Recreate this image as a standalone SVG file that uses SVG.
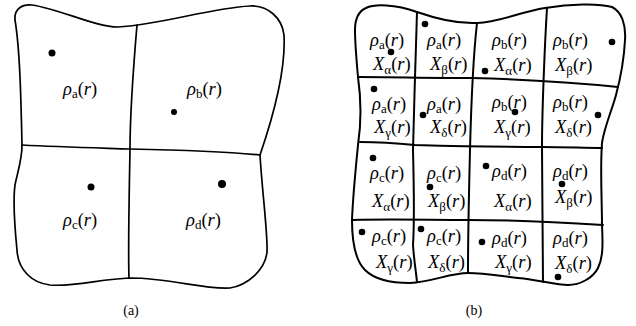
<svg xmlns="http://www.w3.org/2000/svg" width="636" height="326" viewBox="0 0 636 326">
<style>
.ln{fill:none;stroke:#000;stroke-width:1.7;stroke-linejoin:round;stroke-linecap:round}
.lb{fill:none;stroke:#000;stroke-width:2;stroke-linejoin:round;stroke-linecap:round}
.dot{fill:#000}
text{font-family:"Liberation Serif","DejaVu Serif",serif;font-size:18.5px;fill:#000}
.it{font-style:italic}
.sub{font-size:13px;font-style:normal}
.cap{font-size:14px}
</style>
<rect width="636" height="326" fill="#fff"/>
<g id="panel-a">
  <path class="ln" d="M15,20 C14,9 22,4 32,5 C60,9 95,27 118,27 C160,25 210,8 250,6 C268,5 282,18 284,35 C286,70 272,120 260,155 C262,190 268,235 267,252 C265,270 248,285 230,288 C205,290 170,278 130,278 C100,279 75,287 50,285 C32,283 18,270 17,250 C14,220 13,200 15,185 C18,170 22,160 22,145 C21,100 20,50 15,20 Z"/>
  <path class="ln" d="M137,25 C134,60 130,110 130,150 C129,200 128,250 129,278"/>
  <path class="ln" d="M22,145 C60,147 100,148 130,149 C180,150 230,152 260,155"/>
  <circle class="dot" cx="52" cy="53" r="3.5"/>
  <circle class="dot" cx="174" cy="112" r="3"/>
  <circle class="dot" cx="91" cy="187" r="3.5"/>
  <circle class="dot" cx="222" cy="184" r="4"/>
  <text x="63" y="95"><tspan class="it">ρ</tspan><tspan class="sub" dy="3">a</tspan><tspan dy="-3">(</tspan><tspan class="it">r</tspan>)</text>
  <text x="187" y="95"><tspan class="it">ρ</tspan><tspan class="sub" dy="3">b</tspan><tspan dy="-3">(</tspan><tspan class="it">r</tspan>)</text>
  <text x="63" y="226"><tspan class="it">ρ</tspan><tspan class="sub" dy="3">c</tspan><tspan dy="-3">(</tspan><tspan class="it">r</tspan>)</text>
  <text x="186" y="226"><tspan class="it">ρ</tspan><tspan class="sub" dy="3">d</tspan><tspan dy="-3">(</tspan><tspan class="it">r</tspan>)</text>
  <text class="cap" x="131" y="315" text-anchor="middle">(a)</text>
</g>
<g id="panel-b">
  <path class="lb" d="M355,30 C355,22 357,12 366,8 C374,4 395,4 417,12 C440,20 458,24 477,23 C500,22 520,12 545,8 C570,4 598,3 612,7 C622,12 626,25 625,40 C624,60 620,80 616,95 C612,110 604,128 602,143 C600,170 602,200 602,225 C603,245 603,258 598,268 C593,278 580,285 568,285 C555,285 540,280 518,278 C500,276 485,273 468,273 C450,273 432,282 410,283 C392,283 375,280 365,270 C355,260 352,240 352,220 C353,195 356,165 358,145 C361,125 362,105 358,77 C356,55 355,40 355,30 Z"/>
  <g id="connectors">
    <path class="lb" d="M358,77 C390,77 430,78 472,78 C510,79 560,81 618,87"/>
    <path class="lb" d="M360,142 C378,142 395,143 415,145 C450,146 490,147 542,147 C565,147 585,148 602,148"/>
    <path class="lb" d="M352,220 C390,219 430,220 468,220 C500,220 540,221 603,225"/>
    <path class="lb" d="M417,12 C416,40 414,110 413,150 C414,190 414,230 413,245 C414,260 416,272 417,282"/>
    <path class="lb" d="M477,23 C474,50 471,110 470,150 C469,190 468,240 468,273"/>
    <path class="lb" d="M547,8 C545,40 542,110 542,147 C542,190 543,240 543,282"/>
  </g>
  <g id="dots-b">
    <circle class="dot" cx="425" cy="24" r="3.3"/>
    <circle class="dot" cx="391" cy="52" r="3.3"/>
    <circle class="dot" cx="485" cy="71" r="3.3"/>
    <circle class="dot" cx="612" cy="42" r="3.3"/>
    <circle class="dot" cx="374" cy="89" r="3.3"/>
    <circle class="dot" cx="423" cy="115" r="3.3"/>
    <circle class="dot" cx="515" cy="112" r="3.3"/>
    <circle class="dot" cx="598" cy="115" r="3.3"/>
    <circle class="dot" cx="373" cy="158" r="3.3"/>
    <circle class="dot" cx="430" cy="187" r="3.3"/>
    <circle class="dot" cx="486" cy="166" r="3.3"/>
    <circle class="dot" cx="562" cy="184" r="3.3"/>
    <circle class="dot" cx="362" cy="232" r="3.3"/>
    <circle class="dot" cx="421" cy="229" r="3.3"/>
    <circle class="dot" cx="482" cy="242" r="3.3"/>
    <circle class="dot" cx="558" cy="277" r="3.3"/>
  </g>
  <g id="cell-1-1">
    <text x="370" y="46"><tspan class="it">ρ</tspan><tspan class="sub" dy="2.5">a</tspan><tspan dy="-2.5">(</tspan><tspan class="it">r</tspan>)</text>
    <text x="373" y="70"><tspan class="it">X</tspan><tspan class="sub" dy="4">α</tspan><tspan dy="-4">(</tspan><tspan class="it">r</tspan>)</text>
  </g>
  <g id="cell-1-2">
    <text x="427" y="46"><tspan class="it">ρ</tspan><tspan class="sub" dy="2.5">a</tspan><tspan dy="-2.5">(</tspan><tspan class="it">r</tspan>)</text>
    <text x="430" y="70"><tspan class="it">X</tspan><tspan class="sub" dy="4">β</tspan><tspan dy="-4">(</tspan><tspan class="it">r</tspan>)</text>
  </g>
  <g id="cell-1-3">
    <text x="492" y="46"><tspan class="it">ρ</tspan><tspan class="sub" dy="3">b</tspan><tspan dy="-3">(</tspan><tspan class="it">r</tspan>)</text>
    <text x="494" y="71"><tspan class="it">X</tspan><tspan class="sub" dy="4">α</tspan><tspan dy="-4">(</tspan><tspan class="it">r</tspan>)</text>
  </g>
  <g id="cell-1-4">
    <text x="553" y="46"><tspan class="it">ρ</tspan><tspan class="sub" dy="3">b</tspan><tspan dy="-3">(</tspan><tspan class="it">r</tspan>)</text>
    <text x="555" y="71"><tspan class="it">X</tspan><tspan class="sub" dy="4">β</tspan><tspan dy="-4">(</tspan><tspan class="it">r</tspan>)</text>
  </g>
  <g id="cell-2-1">
    <text x="372" y="110"><tspan class="it">ρ</tspan><tspan class="sub" dy="3">a</tspan><tspan dy="-3">(</tspan><tspan class="it">r</tspan>)</text>
    <text x="374" y="133"><tspan class="it">X</tspan><tspan class="sub" dy="4">γ</tspan><tspan dy="-4">(</tspan><tspan class="it">r</tspan>)</text>
  </g>
  <g id="cell-2-2">
    <text x="427" y="110"><tspan class="it">ρ</tspan><tspan class="sub" dy="3">a</tspan><tspan dy="-3">(</tspan><tspan class="it">r</tspan>)</text>
    <text x="430" y="133"><tspan class="it">X</tspan><tspan class="sub" dy="4">δ</tspan><tspan dy="-4">(</tspan><tspan class="it">r</tspan>)</text>
  </g>
  <g id="cell-2-3">
    <text x="492" y="108"><tspan class="it">ρ</tspan><tspan class="sub" dy="3">b</tspan><tspan dy="-3">(</tspan><tspan class="it">r</tspan>)</text>
    <text x="494" y="133"><tspan class="it">X</tspan><tspan class="sub" dy="4">γ</tspan><tspan dy="-4">(</tspan><tspan class="it">r</tspan>)</text>
  </g>
  <g id="cell-2-4">
    <text x="553" y="108"><tspan class="it">ρ</tspan><tspan class="sub" dy="3">b</tspan><tspan dy="-3">(</tspan><tspan class="it">r</tspan>)</text>
    <text x="555" y="133"><tspan class="it">X</tspan><tspan class="sub" dy="4">δ</tspan><tspan dy="-4">(</tspan><tspan class="it">r</tspan>)</text>
  </g>
  <g id="cell-3-1">
    <text x="370" y="179"><tspan class="it">ρ</tspan><tspan class="sub" dy="3">c</tspan><tspan dy="-3">(</tspan><tspan class="it">r</tspan>)</text>
    <text x="372" y="207"><tspan class="it">X</tspan><tspan class="sub" dy="4">α</tspan><tspan dy="-4">(</tspan><tspan class="it">r</tspan>)</text>
  </g>
  <g id="cell-3-2">
    <text x="427" y="179"><tspan class="it">ρ</tspan><tspan class="sub" dy="3">c</tspan><tspan dy="-3">(</tspan><tspan class="it">r</tspan>)</text>
    <text x="428" y="207"><tspan class="it">X</tspan><tspan class="sub" dy="4">β</tspan><tspan dy="-4">(</tspan><tspan class="it">r</tspan>)</text>
  </g>
  <g id="cell-3-3">
    <text x="492" y="177"><tspan class="it">ρ</tspan><tspan class="sub" dy="3">d</tspan><tspan dy="-3">(</tspan><tspan class="it">r</tspan>)</text>
    <text x="494" y="207"><tspan class="it">X</tspan><tspan class="sub" dy="4">α</tspan><tspan dy="-4">(</tspan><tspan class="it">r</tspan>)</text>
  </g>
  <g id="cell-3-4">
    <text x="553" y="177"><tspan class="it">ρ</tspan><tspan class="sub" dy="3">d</tspan><tspan dy="-3">(</tspan><tspan class="it">r</tspan>)</text>
    <text x="555" y="203"><tspan class="it">X</tspan><tspan class="sub" dy="4">β</tspan><tspan dy="-4">(</tspan><tspan class="it">r</tspan>)</text>
  </g>
  <g id="cell-4-1">
    <text x="372" y="242"><tspan class="it">ρ</tspan><tspan class="sub" dy="3">c</tspan><tspan dy="-3">(</tspan><tspan class="it">r</tspan>)</text>
    <text x="376" y="268"><tspan class="it">X</tspan><tspan class="sub" dy="4">γ</tspan><tspan dy="-4">(</tspan><tspan class="it">r</tspan>)</text>
  </g>
  <g id="cell-4-2">
    <text x="427" y="242"><tspan class="it">ρ</tspan><tspan class="sub" dy="3">c</tspan><tspan dy="-3">(</tspan><tspan class="it">r</tspan>)</text>
    <text x="428" y="268"><tspan class="it">X</tspan><tspan class="sub" dy="4">δ</tspan><tspan dy="-4">(</tspan><tspan class="it">r</tspan>)</text>
  </g>
  <g id="cell-4-3">
    <text x="492" y="244"><tspan class="it">ρ</tspan><tspan class="sub" dy="3">d</tspan><tspan dy="-3">(</tspan><tspan class="it">r</tspan>)</text>
    <text x="495" y="268"><tspan class="it">X</tspan><tspan class="sub" dy="4">γ</tspan><tspan dy="-4">(</tspan><tspan class="it">r</tspan>)</text>
  </g>
  <g id="cell-4-4">
    <text x="553" y="244"><tspan class="it">ρ</tspan><tspan class="sub" dy="3">d</tspan><tspan dy="-3">(</tspan><tspan class="it">r</tspan>)</text>
    <text x="555" y="269"><tspan class="it">X</tspan><tspan class="sub" dy="4">δ</tspan><tspan dy="-4">(</tspan><tspan class="it">r</tspan>)</text>
  </g>
  <text class="cap" x="474" y="315" text-anchor="middle">(b)</text>
</g>
</svg>
